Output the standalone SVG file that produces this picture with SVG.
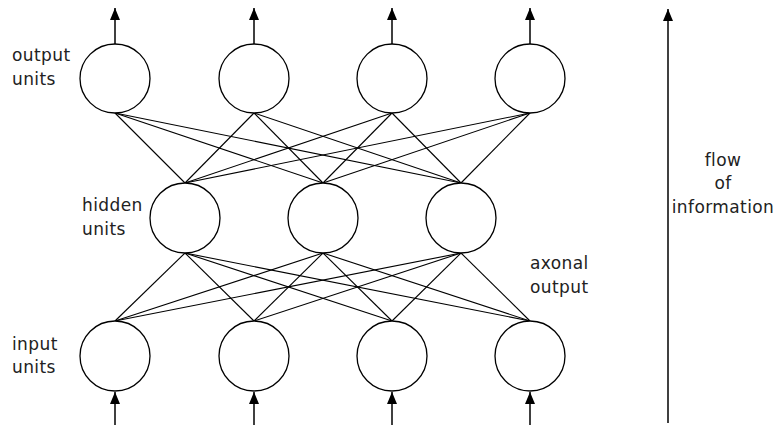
<svg xmlns="http://www.w3.org/2000/svg" width="776" height="425" viewBox="0 0 776 425">
<style>
.u{fill:#fff;stroke:#000;stroke-width:1.3}
.c line{stroke:#000;stroke-width:1.1}
.a line{stroke:#000;stroke-width:1.5}
text{font-family:"DejaVu Sans","Liberation Sans",sans-serif;font-size:17px;letter-spacing:0.4px;fill:#222}
</style>
<defs>
<marker id="ah" viewBox="0 0 12 10" refX="12" refY="5" markerWidth="12" markerHeight="10" orient="auto" markerUnits="userSpaceOnUse"><path d="M0,0 L12,5 L0,10 z" fill="#000"/></marker>
</defs>
<rect width="776" height="425" fill="#fff"/>
<g id="connectors" class="c">
<line x1="115" y1="113" x2="185" y2="183"/><line x1="115" y1="113" x2="323" y2="183"/><line x1="115" y1="113" x2="461" y2="183"/>
<line x1="254" y1="113" x2="185" y2="183"/><line x1="254" y1="113" x2="323" y2="183"/><line x1="254" y1="113" x2="461" y2="183"/>
<line x1="392" y1="113" x2="185" y2="183"/><line x1="392" y1="113" x2="323" y2="183"/><line x1="392" y1="113" x2="461" y2="183"/>
<line x1="530" y1="113" x2="185" y2="183"/><line x1="530" y1="113" x2="323" y2="183"/><line x1="530" y1="113" x2="461" y2="183"/>
<line x1="185" y1="253" x2="115" y2="321"/><line x1="185" y1="253" x2="254" y2="321"/><line x1="185" y1="253" x2="392" y2="321"/><line x1="185" y1="253" x2="530" y2="321"/>
<line x1="323" y1="253" x2="115" y2="321"/><line x1="323" y1="253" x2="254" y2="321"/><line x1="323" y1="253" x2="392" y2="321"/><line x1="323" y1="253" x2="530" y2="321"/>
<line x1="461" y1="253" x2="115" y2="321"/><line x1="461" y1="253" x2="254" y2="321"/><line x1="461" y1="253" x2="392" y2="321"/><line x1="461" y1="253" x2="530" y2="321"/>
</g>
<g id="arrows" class="a">
<line x1="115" y1="44" x2="115" y2="8" marker-end="url(#ah)"/>
<line x1="254" y1="44" x2="254" y2="8" marker-end="url(#ah)"/>
<line x1="392" y1="44" x2="392" y2="8" marker-end="url(#ah)"/>
<line x1="530" y1="44" x2="530" y2="8" marker-end="url(#ah)"/>
<line x1="115" y1="425" x2="115" y2="392" marker-end="url(#ah)"/>
<line x1="254" y1="425" x2="254" y2="392" marker-end="url(#ah)"/>
<line x1="392" y1="425" x2="392" y2="392" marker-end="url(#ah)"/>
<line x1="530" y1="425" x2="530" y2="392" marker-end="url(#ah)"/>
<line x1="668" y1="423" x2="668" y2="9" marker-end="url(#ah)"/>
</g>
<g id="out1"><ellipse class="u" cx="115" cy="78.5" rx="35" ry="34.5"/></g>
<g id="out2"><ellipse class="u" cx="254" cy="78.5" rx="35" ry="34.5"/></g>
<g id="out3"><ellipse class="u" cx="392" cy="78.5" rx="35" ry="34.5"/></g>
<g id="out4"><ellipse class="u" cx="530" cy="78.5" rx="35" ry="34.5"/></g>
<g id="hid1"><ellipse class="u" cx="185" cy="218" rx="35" ry="35"/></g>
<g id="hid2"><ellipse class="u" cx="323" cy="218" rx="35" ry="35"/></g>
<g id="hid3"><ellipse class="u" cx="461" cy="218" rx="35" ry="35"/></g>
<g id="in1"><ellipse class="u" cx="115" cy="356" rx="35" ry="35"/></g>
<g id="in2"><ellipse class="u" cx="254" cy="356" rx="35" ry="35"/></g>
<g id="in3"><ellipse class="u" cx="392" cy="356" rx="35" ry="35"/></g>
<g id="in4"><ellipse class="u" cx="530" cy="356" rx="35" ry="35"/></g>
<g id="labels">
<text x="12" y="61">output</text><text x="12" y="85">units</text>
<text x="82" y="211">hidden</text><text x="82" y="235">units</text>
<text x="12" y="350">input</text><text x="12" y="373">units</text>
<text x="530" y="269">axonal</text><text x="530" y="293">output</text>
<text x="723" y="166" text-anchor="middle">flow</text>
<text x="723" y="189" text-anchor="middle">of</text>
<text x="723" y="213" text-anchor="middle">information</text>
</g>
</svg>
